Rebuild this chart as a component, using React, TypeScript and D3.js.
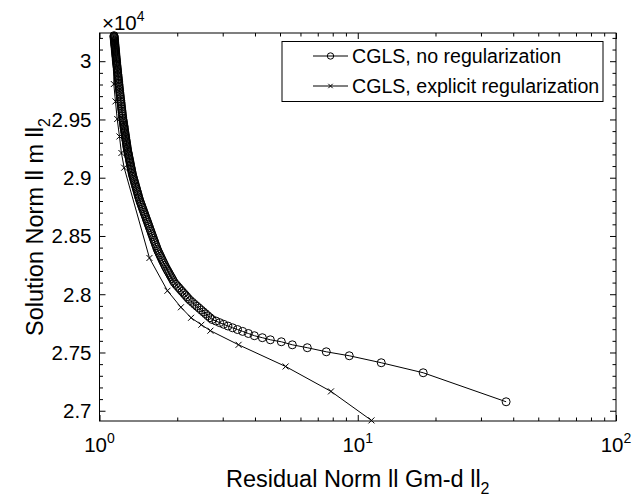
import { useEffect, useRef } from 'react';
import * as d3 from 'd3';

// CGLS without regularization (residual norm, solution norm).
// Iterates bunch up towards the top-left, which makes the thick black band.
const residualPlain = [
  1.1378, 1.1385, 1.1392, 1.1399, 1.1407, 1.1415, 1.1423, 1.143, 1.1438, 1.1447, 1.1456, 1.1465,
  1.1474, 1.1483, 1.1493, 1.1503, 1.1512, 1.1522, 1.1532, 1.1543, 1.1554, 1.1565, 1.1576, 1.1587,
  1.1599, 1.1611, 1.1623, 1.1634,
  1.1647, 1.1661, 1.1674, 1.1689, 1.1704, 1.1718, 1.1733, 1.1747, 1.1762, 1.1778, 1.1794, 1.1809,
  1.1825, 1.1841, 1.1858, 1.1875, 1.1892, 1.1909, 1.1925, 1.1943, 1.1963, 1.1983, 1.2003, 1.2023,
  1.2044, 1.2066, 1.2087, 1.2108, 1.213, 1.2151, 1.2172, 1.2194, 1.2215, 1.2236, 1.2259, 1.2282,
  1.2304, 1.2327,
  1.235, 1.2372, 1.2393, 1.2414, 1.2436, 1.2457, 1.2478, 1.25, 1.2521, 1.2543, 1.2566, 1.2588,
  1.261, 1.2632, 1.2653, 1.2676, 1.2698, 1.272, 1.2742, 1.2764, 1.2786, 1.2808, 1.2831,
  1.2862, 1.2892, 1.2922, 1.2952, 1.2982, 1.3016, 1.3049, 1.3082, 1.3113, 1.3146, 1.3178, 1.3212,
  1.3245, 1.3278, 1.3314, 1.3349, 1.3385, 1.3422,
  1.3471, 1.3522, 1.3576, 1.363, 1.3685, 1.374, 1.3794, 1.385, 1.3905, 1.3961, 1.4017, 1.4072,
  1.4128, 1.4185, 1.4242, 1.4304,
  1.4382, 1.446, 1.454, 1.462, 1.4699, 1.4779, 1.486, 1.4942, 1.5024, 1.5105, 1.5188, 1.5272,
  1.5355, 1.5438,
  1.5527, 1.5618, 1.5709, 1.58, 1.589, 1.5983, 1.6075, 1.6167, 1.6261, 1.6356, 1.645, 1.6545,
  1.6641, 1.6738,
  1.6856, 1.6982, 1.7112, 1.7241, 1.7371, 1.7504, 1.7636, 1.7769, 1.7904,
  1.8049, 1.822, 1.8395, 1.8571, 1.8749, 1.8928, 1.9109, 1.9292, 1.9475,
  1.9737, 2.0018, 2.0303, 2.0592, 2.0884, 2.1183, 2.1485, 2.179, 2.2101,
  2.2477, 2.2918, 2.3368, 2.3829, 2.4297, 2.4775, 2.5262, 2.5757, 2.6263, 2.678, 2.7307,
  2.8229, 2.9202, 3.026, 3.1442, 3.2757, 3.4219, 3.5841, 3.7708, 3.9775,
  4.271, 4.587, 5.059, 5.58, 6.377, 7.553, 9.271, 12.33, 17.92, 37.54,
];
const solutionPlain = [
  30219, 30213, 30207, 30201, 30194, 30187, 30180, 30173, 30167, 30159, 30151, 30143,
  30136, 30128, 30119, 30111, 30102, 30094, 30085, 30076, 30066, 30057, 30047, 30038,
  30027, 30017, 30007, 29997,
  29986, 29976, 29966, 29955, 29943, 29932, 29921, 29910, 29899, 29887, 29875, 29863,
  29851, 29839, 29826, 29813, 29800, 29787, 29774, 29761, 29747, 29733, 29719, 29706,
  29691, 29676, 29662, 29647, 29633, 29618, 29603, 29589, 29574, 29560, 29544, 29529,
  29513, 29498,
  29487, 29476, 29464, 29453, 29442, 29431, 29420, 29409, 29397, 29386, 29375, 29364,
  29353, 29342, 29330, 29319, 29308, 29297, 29286, 29275, 29264, 29252, 29241,
  29229, 29218, 29207, 29196, 29185, 29172, 29160, 29148, 29136, 29124, 29112, 29100,
  29088, 29076, 29064, 29051, 29038, 29025,
  29012, 28999, 28985, 28972, 28958, 28944, 28930, 28917, 28903, 28889, 28876, 28862,
  28848, 28834, 28821, 28807,
  28792, 28778, 28763, 28748, 28734, 28719, 28705, 28690, 28676, 28661, 28646, 28632,
  28617, 28603,
  28587, 28572, 28556, 28541, 28525, 28510, 28494, 28479, 28463, 28448, 28433, 28417,
  28402, 28386,
  28371, 28355, 28340, 28324, 28309, 28293, 28278, 28263, 28247,
  28232, 28215, 28199, 28183, 28166, 28150, 28134, 28117, 28101,
  28086, 28070, 28055, 28039, 28024, 28009, 27993, 27978, 27962,
  27946, 27930, 27913, 27897, 27881, 27864, 27848, 27832, 27815, 27799, 27783,
  27770, 27756, 27742, 27727, 27712, 27697, 27681, 27663, 27644,
  27627, 27609, 27592, 27566, 27541, 27506, 27472, 27412, 27326, 27077,
];

// CGLS with explicit regularization
const residualExplicit = [
  1.139, 1.136, 1.153, 1.171, 1.195, 1.216, 1.246, 1.561, 1.833, 2.067, 2.263, 2.48, 2.688, 3.456,
  5.257, 7.877, 11.3,
];
const solutionExplicit = [
  30185, 29804, 29655, 29504, 29354, 29212, 29086, 28311, 28030, 27888, 27798, 27738, 27687, 27566,
  27380, 27166, 26917,
];

const yTickValues = [27000, 27500, 28000, 28500, 29000, 29500, 30000];
const yTickLabels = ['2.7', '2.75', '2.8', '2.85', '2.9', '2.95', '3'];
const xTickValues = [1, 10, 100];
const xTickExponents = ['0', '1', '2'];
const seriesNames = ['CGLS, no regularization', 'CGLS, explicit regularization'];

const FONT = "'Liberation Sans', Arial, Helvetica, sans-serif";

export default function App() {
  const svgRef = useRef<SVGSVGElement>(null);

  useEffect(() => {
    if (!svgRef.current) return;
    const width = 635;
    const height = 498;
    const margin = { top: 33, right: 19, bottom: 77, left: 99.5 };

    d3.select(svgRef.current).selectAll('*').remove();
    const svg = d3.select(svgRef.current).attr('width', width).attr('height', height);

    const x = d3.scaleLog().domain([1, 100]).range([margin.left, width - margin.right]);
    const y = d3
      .scaleLinear()
      .domain([26912, 30242])
      .range([height - margin.bottom, margin.top]);

    const x0 = margin.left;
    const x1 = width - margin.right;
    const y0 = height - margin.bottom;
    const y1 = margin.top;

    svg.append('rect').attr('x', 0).attr('y', 0).attr('width', width).attr('height', height).attr('fill', '#fff');

    // ticks (inward, on all four sides)
    const minorX = [2, 3, 4, 5, 6, 7, 8, 9, 20, 30, 40, 50, 60, 70, 80, 90];
    const minorY = d3.range(27000, 30201, 100).filter((v) => v % 500 !== 0);
    const noLabel = () => '';

    const addAxis = (axis: d3.Axis<any>, tx: number, ty: number) => {
      const g = svg.append('g').attr('transform', `translate(${tx},${ty})`).call(axis);
      g.select('.domain').remove();
      g.selectAll('line').attr('stroke', '#000').attr('stroke-width', 1);
      g.selectAll('text').remove();
    };
    addAxis(d3.axisBottom(x).tickValues(xTickValues).tickSize(-6).tickFormat(noLabel), 0, y0);
    addAxis(d3.axisBottom(x).tickValues(minorX).tickSize(-3.5).tickFormat(noLabel), 0, y0);
    addAxis(d3.axisTop(x).tickValues(xTickValues).tickSize(-6).tickFormat(noLabel), 0, y1);
    addAxis(d3.axisTop(x).tickValues(minorX).tickSize(-3.5).tickFormat(noLabel), 0, y1);
    addAxis(d3.axisLeft(y).tickValues(yTickValues).tickSize(-6).tickFormat(noLabel), x0, 0);
    addAxis(d3.axisLeft(y).tickValues(minorY).tickSize(-3.5).tickFormat(noLabel), x0, 0);
    addAxis(d3.axisRight(y).tickValues(yTickValues).tickSize(-6).tickFormat(noLabel), x1, 0);
    addAxis(d3.axisRight(y).tickValues(minorY).tickSize(-3.5).tickFormat(noLabel), x1, 0);

    svg
      .append('rect')
      .attr('x', x0)
      .attr('y', y1)
      .attr('width', x1 - x0)
      .attr('height', y0 - y1)
      .attr('fill', 'none')
      .attr('stroke', '#000')
      .attr('stroke-width', 1);

    // y tick labels
    svg
      .selectAll('.ylab')
      .data(yTickValues)
      .enter()
      .append('text')
      .attr('x', x0 - 8)
      .attr('y', (d) => y(d) + 7.3)
      .attr('text-anchor', 'end')
      .style('font-family', FONT)
      .style('font-size', '20.5px')
      .text((_, i) => yTickLabels[i]);

    // x tick labels 10^n
    const xl = svg
      .selectAll('.xlab')
      .data(xTickValues)
      .enter()
      .append('text')
      .attr('x', (d) => x(d))
      .attr('y', 452)
      .attr('text-anchor', 'middle')
      .style('font-family', FONT)
      .style('font-size', '20.5px');
    xl.append('tspan').text('10');
    xl.append('tspan')
      .attr('dy', -9)
      .style('font-size', '14px')
      .text((_, i) => xTickExponents[i]);

    // exponent multiplier
    const mult = svg
      .append('text')
      .attr('x', 102)
      .attr('y', 30)
      .style('font-family', FONT)
      .style('font-size', '20.5px');
    mult.append('tspan').text('\u00d710');
    mult.append('tspan').attr('dy', -9).style('font-size', '14px').text('4');

    // axis labels
    const xt = svg
      .append('text')
      .attr('x', (x0 + x1) / 2)
      .attr('y', 487)
      .attr('text-anchor', 'middle')
      .style('font-family', FONT)
      .style('font-size', '23.5px');
    xt.append('tspan').text('Residual Norm ll Gm-d ll');
    xt.append('tspan').attr('dy', 7).style('font-size', '16px').text('2');

    const yt = svg
      .append('text')
      .attr('transform', `translate(43,${(y0 + y1) / 2}) rotate(-90)`)
      .attr('text-anchor', 'middle')
      .style('font-family', FONT)
      .style('font-size', '23.5px');
    yt.append('tspan').text('Solution Norm ll m ll');
    yt.append('tspan').attr('dy', 7).style('font-size', '16px').text('2');

    // series
    const plain = residualPlain.map((r, i) => [r, solutionPlain[i]] as [number, number]);
    const explicit = residualExplicit.map((r, i) => [r, solutionExplicit[i]] as [number, number]);
    const line = d3
      .line<[number, number]>()
      .x((d) => x(d[0]))
      .y((d) => y(d[1]));

    svg
      .append('path')
      .datum(plain)
      .attr('d', line)
      .attr('fill', 'none')
      .attr('stroke', '#000')
      .attr('stroke-width', 1);
    svg
      .append('g')
      .selectAll('circle')
      .data(plain)
      .enter()
      .append('circle')
      .attr('cx', (d) => x(d[0]))
      .attr('cy', (d) => y(d[1]))
      .attr('r', 4)
      .attr('fill', 'none')
      .attr('stroke', '#000')
      .attr('stroke-width', 1);

    svg
      .append('path')
      .datum(explicit)
      .attr('d', line)
      .attr('fill', 'none')
      .attr('stroke', '#000')
      .attr('stroke-width', 1);
    const cross = (s: number) => `M${-s},${-s}L${s},${s}M${-s},${s}L${s},${-s}`;
    svg
      .append('g')
      .selectAll('path')
      .data(explicit)
      .enter()
      .append('path')
      .attr('transform', (d) => `translate(${x(d[0])},${y(d[1])})`)
      .attr('d', cross(3))
      .attr('fill', 'none')
      .attr('stroke', '#000')
      .attr('stroke-width', 1);

    // legend
    const lg = svg.append('g');
    lg.append('rect')
      .attr('x', 282)
      .attr('y', 41.5)
      .attr('width', 321)
      .attr('height', 60)
      .attr('fill', '#fff')
      .attr('stroke', '#000')
      .attr('stroke-width', 1);
    seriesNames.forEach((name, i) => {
      const cy = 56 + i * 30;
      lg.append('line')
        .attr('x1', 313)
        .attr('x2', 348)
        .attr('y1', cy)
        .attr('y2', cy)
        .attr('stroke', '#000')
        .attr('stroke-width', 1);
      if (i === 0) {
        lg.append('circle').attr('cx', 330.5).attr('cy', cy).attr('r', 3.2).attr('fill', 'none').attr('stroke', '#000');
      } else {
        lg.append('path')
          .attr('transform', `translate(330.5,${cy})`)
          .attr('d', cross(2.2))
          .attr('stroke', '#000')
          .attr('fill', 'none');
      }
      lg.append('text')
        .attr('x', 352)
        .attr('y', cy + 7)
        .style('font-family', FONT)
        .style('font-size', '19.6px')
        .text(name);
    });
  }, []);

  return (
    <div style={{ position: 'absolute', left: 0, top: 0 }}>
      <svg ref={svgRef} />
    </div>
  );
}
